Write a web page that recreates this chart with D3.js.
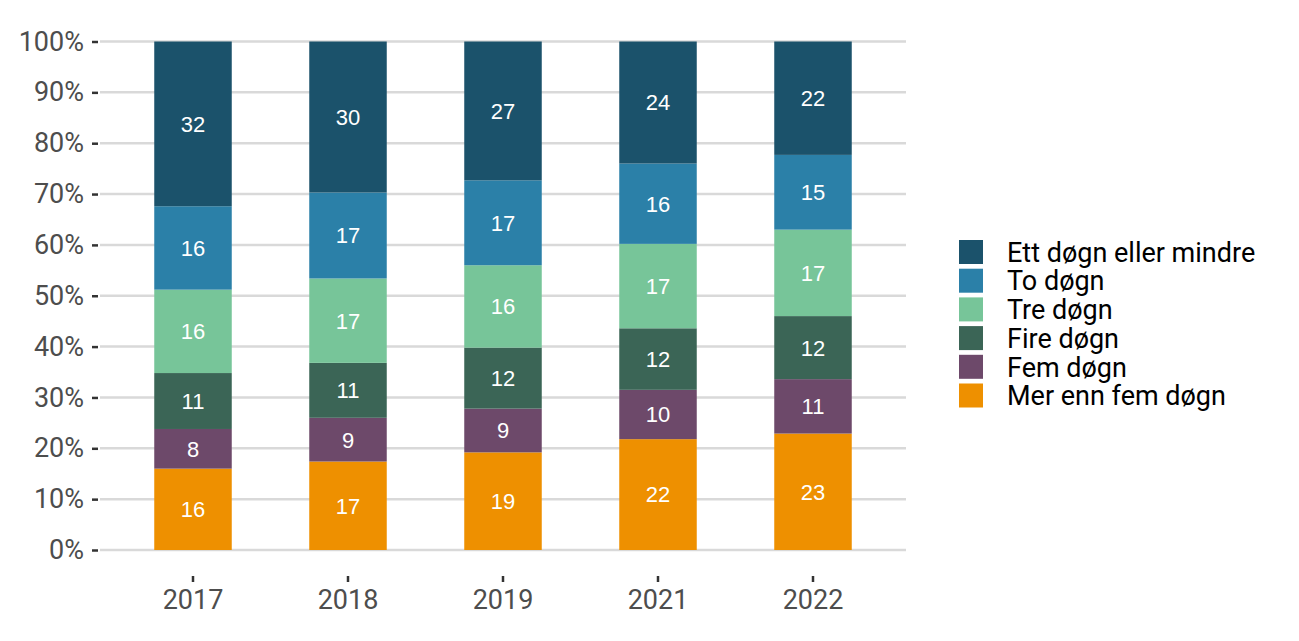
<!DOCTYPE html>
<html><head><meta charset="utf-8">
<script src="https://cdn.jsdelivr.net/npm/d3@7"></script>
<style>body{margin:0;background:#fff}</style>
</head><body>
<svg id="c" width="1299" height="641"></svg>
<script>
const years = ["2017","2018","2019","2021","2022"];
const seriesNames = ["Mer enn fem døgn","Fem døgn","Fire døgn","Tre døgn","To døgn","Ett døgn eller mindre"];
const merEnnFem = [16.0, 17.4, 19.2, 21.8, 22.9];
const fem       = [7.8, 8.6, 8.6, 9.7, 10.7];
const fire      = [11.0, 10.8, 12.0, 12.1, 12.4];
const tre       = [16.4, 16.6, 16.2, 16.6, 17.0];
const to        = [16.4, 16.9, 16.7, 15.8, 14.7];
const ett       = [32.4, 29.7, 27.3, 24.0, 22.3];
const yTicks = [0,10,20,30,40,50,60,70,80,90,100];
const colors = ["#ee9000","#6d496a","#3b6556","#77c599","#2b80a8","#1b526b"];
const legendOrder = ["Ett døgn eller mindre","To døgn","Tre døgn","Fire døgn","Fem døgn","Mer enn fem døgn"];

const valuesBySeries = [merEnnFem, fem, fire, tre, to, ett];
const rows = years.map((y,i)=>{const r={year:y}; seriesNames.forEach((s,j)=>r[s]=valuesBySeries[j][i]); return r;});
const stacked = d3.stack().keys(seriesNames)(rows);

const svg = d3.select("#c");
const x = d3.scaleBand().domain(years).range([100,906]).paddingInner(0.5).paddingOuter(0.35);
const y = d3.scaleLinear().domain([0,100]).range([550,41.5]);
const color = d3.scaleOrdinal().domain(seriesNames).range(colors);

// gridlines
svg.append("g").selectAll("line").data(yTicks).join("line")
  .attr("x1",100).attr("x2",906).attr("y1",d=>y(d)).attr("y2",d=>y(d))
  .attr("stroke","#d9d9d9").attr("stroke-width",2.5);

// bars
const layers = svg.append("g").selectAll("g").data(stacked).join("g").attr("fill",d=>color(d.key));
layers.selectAll("rect").data(d=>d).join("rect")
  .attr("x",d=>x(d.data.year)).attr("width",x.bandwidth())
  .attr("y",d=>y(d[1])).attr("height",d=>y(d[0])-y(d[1]));

// labels
const lab = svg.append("g");
stacked.forEach(layer=>{
  layer.forEach(d=>{
    lab.append("text")
      .attr("x",x(d.data.year)+x.bandwidth()/2)
      .attr("y",y((d[0]+d[1])/2))
      .attr("dy","0.36em")
      .attr("text-anchor","middle")
      .attr("fill","#fff")
      .attr("font-family","Liberation Sans, Arial, sans-serif")
      .attr("font-size",22)
      .text(Math.round(d[1]-d[0]));
  });
});

// y axis
const yAxis = d3.axisLeft(y).tickValues(yTicks).tickFormat(d=>d+"%").tickSize(6).tickPadding(8);
const ga = svg.append("g").attr("transform","translate(98,0)").call(yAxis);
ga.select(".domain").remove();
ga.selectAll(".tick line").attr("stroke","#333").attr("stroke-width",2.5);
ga.selectAll(".tick text").attr("fill","#4d4d4d").attr("font-family","Roboto, sans-serif").attr("font-size",27);

// x axis
const xAxis = d3.axisBottom(x).tickSize(6).tickPadding(8);
const gx = svg.append("g").attr("transform","translate(0,576)").call(xAxis);
gx.select(".domain").remove();
gx.selectAll(".tick line").attr("stroke","#333").attr("stroke-width",2.5);
gx.selectAll(".tick text").attr("fill","#4d4d4d").attr("font-family","Roboto, sans-serif").attr("font-size",27);

// legend
const lg = svg.append("g").attr("transform","translate(959,240)");
const items = lg.selectAll("g").data(legendOrder).join("g").attr("transform",(d,i)=>`translate(0,${i*28.7})`);
items.append("rect").attr("width",24).attr("height",24).attr("fill",d=>color(d));
items.append("text").attr("x",48).attr("y",12).attr("dy","0.36em")
  .attr("font-family","Roboto, sans-serif").attr("font-size",27).attr("fill","#000").text(d=>d);
</script>
</body></html>
